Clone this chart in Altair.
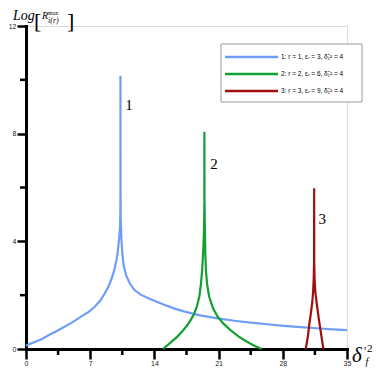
import altair as alt
import pandas as pd

# ---- data ----
series_names = ["1", "2", "3"]
legend_labels = [
    "1: r = 1, εᵣ = 3, δ̃₁² = 4",
    "2: r = 2, εᵣ = 6, δ̃₁² = 4",
    "3: r = 3, εᵣ = 9, δ̃₁² = 4",
]
colors = ["#6f9ef8", "#13a032", "#a30f0f"]

x1 = [0.0, 0.5, 1.0, 1.7, 2.5, 3.2, 3.9, 5.0, 6.0, 6.8, 7.5, 8.1, 8.6, 9.0, 9.32, 9.6,
      9.86, 10.0, 10.11, 10.2, 10.26, 10.29, 10.3, 10.3, 10.31, 10.33, 10.4, 10.5, 10.65,
      10.9, 11.3, 11.8, 12.5, 13.6, 15.0, 16.2, 17.3, 19.0, 20.9, 22.7, 24.5, 26.3, 28.1,
      30.0, 31.7, 33.4, 35.0]
y1 = [0.12, 0.2, 0.27, 0.36, 0.52, 0.64, 0.77, 0.98, 1.2, 1.37, 1.57, 1.8, 2.07, 2.33, 2.6, 2.9,
      3.3, 3.6, 3.95, 4.3, 4.6, 5.2, 5.8, 10.15, 5.8, 4.9, 4.1, 3.55, 3.1,
      2.75, 2.45, 2.2, 2.02, 1.85, 1.65, 1.5, 1.39, 1.25, 1.14, 1.05, 0.98, 0.92, 0.86,
      0.81, 0.77, 0.73, 0.7]

x2 = [14.92, 15.7, 16.5, 17.1, 17.6, 18.0, 18.35, 18.65, 18.9, 19.07, 19.2, 19.3, 19.38, 19.43,
      19.45, 19.45, 19.46, 19.5, 19.55, 19.62, 19.75, 19.97, 20.4, 20.9, 21.5, 22.3, 23.2,
      24.1, 24.9, 25.7]
y2 = [0.0, 0.22, 0.46, 0.68, 0.89, 1.1, 1.32, 1.6, 1.95, 2.4, 2.9, 3.5, 4.1, 4.8,
      5.5, 8.07, 5.5, 4.6, 3.6, 2.9, 2.4, 1.95, 1.5, 1.2, 0.95, 0.7, 0.46,
      0.27, 0.12, 0.0]

x3 = [30.5, 30.75, 30.9, 31.05, 31.2, 31.3, 31.37, 31.41, 31.42, 31.43, 31.47, 31.55, 31.7,
      31.85, 32.0, 32.2, 32.43]
y3 = [0.0, 0.5, 0.95, 1.3, 1.7, 2.1, 2.6, 3.2, 5.97, 3.2, 2.6, 2.1, 1.7,
      1.3, 0.95, 0.5, 0.0]

curve_labels = ["1", "2", "3"]
label_x = [11.23, 20.5, 32.3]
label_y = [9.07, 6.88, 4.83]

x_ticks_major = [0, 7, 14, 21, 28, 35]
x_ticks_minor = [3.5, 10.5, 17.5, 24.5, 31.5]
y_ticks_major = [0, 4, 8, 12]
y_ticks_minor = [2, 6, 10]

rows = []
for name, xs, ys in zip(series_names, [x1, x2, x3], [y1, y2, y3]):
    for i, (a, b) in enumerate(zip(xs, ys)):
        rows.append({"series": name, "x": a, "y": b, "order": i})
df = pd.DataFrame(rows)

W, H = 321, 323
xscale = alt.Scale(domain=[0, 35], nice=False, zero=False)
yscale = alt.Scale(domain=[0, 12], nice=False)
color_scale = alt.Scale(domain=series_names, range=colors)

x_axis = alt.Axis(values=x_ticks_major, title=None)
y_axis = alt.Axis(values=y_ticks_major, title=None)

lines = alt.Chart(df).mark_line(strokeWidth=2.2).encode(
    x=alt.X("x:Q", scale=xscale, axis=x_axis),
    y=alt.Y("y:Q", scale=yscale, axis=y_axis),
    color=alt.Color("series:N", scale=color_scale, legend=None),
    detail="series:N",
    order="order:Q",
)

xminor = alt.Chart(pd.DataFrame({"x": x_ticks_minor})).mark_rule(color="black", strokeWidth=2.5).encode(
    x=alt.X("x:Q", scale=xscale, axis=x_axis), y=alt.value(H), y2=alt.value(H + 6))
yminor = alt.Chart(pd.DataFrame({"y": y_ticks_minor})).mark_rule(color="black", strokeWidth=2.5).encode(
    y=alt.Y("y:Q", scale=yscale, axis=y_axis), x=alt.value(0), x2=alt.value(-6))

labels = alt.Chart(pd.DataFrame({"t": curve_labels, "x": label_x, "y": label_y})).mark_text(
    font="Liberation Serif", fontSize=15, color="black").encode(
    x=alt.X("x:Q", scale=xscale, axis=x_axis),
    y=alt.Y("y:Q", scale=yscale, axis=y_axis),
    text="t:N")

one = alt.Data(values=[{"a": 1}])


def txt(s, x, y, size, italic=True, font="Liberation Serif", align="left"):
    return alt.Chart(one).mark_text(
        text=s, font=font, fontSize=size, fontStyle="italic" if italic else "normal",
        color="black", align=align, baseline="alphabetic").encode(x=alt.value(x), y=alt.value(y))


title_layers = [
    txt("Log", -13, -6, 14),
    txt("[", 8, 2, 22, italic=False),
    txt("R", 16, -7, 10),
    txt("max", 22, -11, 6, italic=False),
    txt("i(r)", 22, -3, 8),
    txt("]", 41, 2, 22, italic=False),
    txt("δ", 326, 336, 21),
    txt("'", 338, 329, 12, italic=False),
    txt("2", 341, 326, 11, italic=False),
    txt("f", 339.5, 339, 10),
]

legend_box = alt.Chart(one).mark_rect(fill="white", stroke="#9a9a9a", strokeWidth=1).encode(
    x=alt.value(195), x2=alt.value(336), y=alt.value(18), y2=alt.value(76))

legend_layers = [legend_box]
for i, lab in enumerate(legend_labels):
    d = alt.Data(values=[{"label": lab, "series": series_names[i]}])
    legend_layers.append(
        alt.Chart(d).mark_rule(strokeWidth=2.5).encode(
            x=alt.value(199), x2=alt.value(252), y=alt.value(31 + 17 * i),
            color=alt.Color("series:N", scale=color_scale, legend=None)))
    legend_layers.append(
        alt.Chart(d).mark_text(font="Liberation Sans", fontSize=6.5, color="black", align="left",
                               baseline="middle").encode(
            x=alt.value(255), y=alt.value(31 + 17 * i), text="label:N"))

chart = alt.layer(lines, xminor, yminor, labels, *title_layers, *legend_layers).properties(
    width=W, height=H, autosize="none",
    padding={"left": 18, "top": 18, "right": 27, "bottom": 18},
).configure_view(stroke=None).configure(background="white").configure_axis(
    grid=False, domainColor="black", domainWidth=3, tickColor="black", tickWidth=2.5,
    labelFontSize=7, labelFont="Liberation Sans", labelColor="#222", labelFlush=False,
    domainCap="square",
).configure_axisX(tickSize=10, labelPadding=0).configure_axisY(tickSize=9, labelPadding=1)

chart.save("out.html", embed_options={"renderer": "svg", "actions": False})
